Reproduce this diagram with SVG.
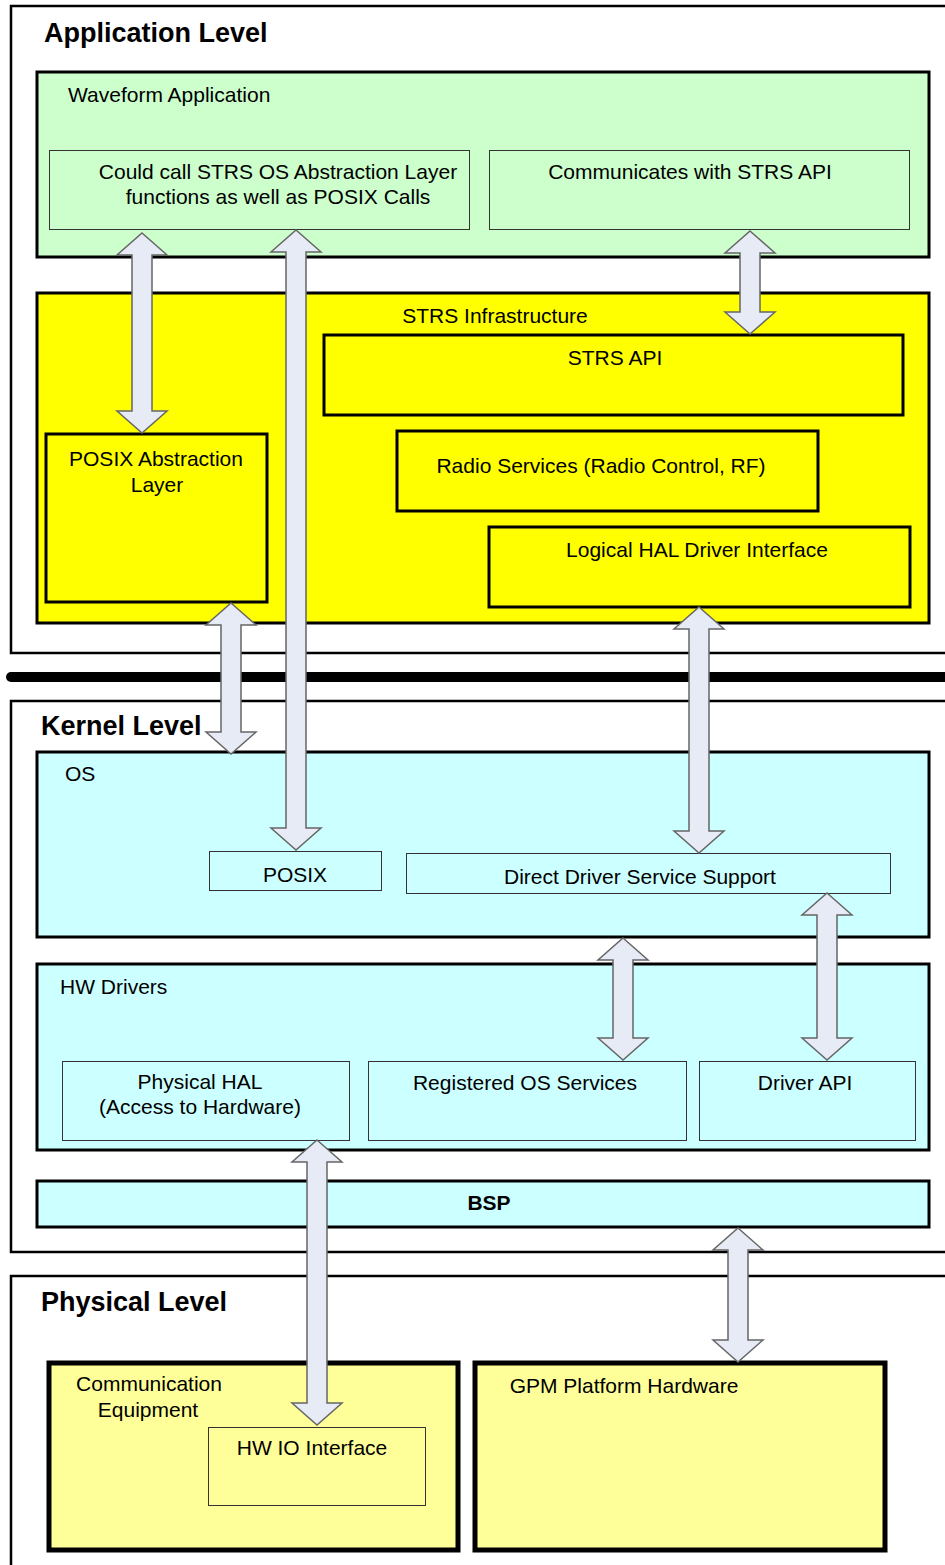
<svg xmlns="http://www.w3.org/2000/svg" width="945" height="1565" viewBox="0 0 945 1565">
<style>
text{font-family:"Liberation Sans",Arial,sans-serif;font-size:21px;fill:#000}
.lvl{font-weight:bold;font-size:27px}
.b{font-weight:bold}
.m{text-anchor:middle}
.frame{fill:none;stroke:#000;stroke-width:2.5}
.green{fill:#CCFFCC;stroke:#000;stroke-width:3}
.yel{fill:#FFFF00;stroke:#000;stroke-width:3}
.cyan{fill:#CCFFFF;stroke:#000;stroke-width:3}
.pale{fill:#FFFF99;stroke:#000;stroke-width:5}
.thin{stroke:#333;stroke-width:1}
.thin.g{fill:#CCFFCC}
.thin.c{fill:#CCFFFF}
.thin.p{fill:#FFFF99}
.arr{fill:#E6EBF5;stroke:#666;stroke-width:1.5;stroke-linejoin:miter}
</style>
<rect width="945" height="1565" fill="#fff"/>

<g id="application-level">
<path class="frame" d="M945,6 H11 V653 H945"/>
<text class="lvl" x="44" y="42">Application Level</text>
</g>
<line id="divider" x1="11" y1="677" x2="945" y2="677" stroke="#000" stroke-width="10" stroke-linecap="round"/>
<g id="kernel-level">
<path class="frame" d="M945,701 H11 V1252 H945"/>
<text class="lvl" x="41" y="735">Kernel Level</text>
</g>
<g id="physical-level">
<path class="frame" d="M945,1276 H11 V1565"/>
<text class="lvl" x="41" y="1311">Physical Level</text>
</g>

<g id="waveform-application">
<rect class="green" x="37" y="72" width="892" height="185"/>
<text x="68" y="102">Waveform Application</text>
</g>
<g id="could-call">
<rect class="thin g" x="49.5" y="150.5" width="420" height="79"/>
<text class="m" x="278" y="179">Could call STRS OS Abstraction Layer</text>
<text class="m" x="278" y="204">functions as well as POSIX Calls</text>
</g>
<g id="communicates">
<rect class="thin g" x="489.5" y="150.5" width="420" height="79"/>
<text class="m" x="690" y="179">Communicates with STRS API</text>
</g>

<g id="strs-infrastructure">
<rect class="yel" x="37" y="293" width="892" height="330"/>
<text class="m" x="495" y="323">STRS Infrastructure</text>
</g>
<g id="strs-api">
<rect class="yel" x="324" y="335" width="579" height="80"/>
<text class="m" x="615" y="365">STRS API</text>
</g>
<g id="radio-services">
<rect class="yel" x="397" y="431" width="421" height="80"/>
<text class="m" x="601" y="473">Radio Services (Radio Control, RF)</text>
</g>
<g id="logical-hal">
<rect class="yel" x="489" y="527" width="421" height="80"/>
<text class="m" x="697" y="557">Logical HAL Driver Interface</text>
</g>
<g id="posix-abstraction">
<rect class="yel" x="46" y="434" width="221" height="168"/>
<text class="m" x="156" y="466">POSIX Abstraction</text>
<text class="m" x="157" y="492">Layer</text>
</g>

<g id="os">
<rect class="cyan" x="37" y="752" width="892" height="185"/>
<text x="65" y="781">OS</text>
</g>
<g id="posix">
<rect class="thin c" x="209.5" y="851.5" width="172" height="39"/>
<text class="m" x="295" y="882">POSIX</text>
</g>
<g id="direct-driver">
<rect class="thin c" x="406.5" y="853.5" width="484" height="40"/>
<text class="m" x="640" y="884">Direct Driver Service Support</text>
</g>

<g id="hw-drivers">
<rect class="cyan" x="37" y="964" width="892" height="186"/>
<text x="60" y="994">HW Drivers</text>
</g>
<g id="physical-hal">
<rect class="thin c" x="62.5" y="1061.5" width="287" height="79"/>
<text class="m" x="200" y="1089">Physical HAL</text>
<text class="m" x="200" y="1114">(Access to Hardware)</text>
</g>
<g id="registered-os">
<rect class="thin c" x="368.5" y="1061.5" width="318" height="79"/>
<text class="m" x="525" y="1090">Registered OS Services</text>
</g>
<g id="driver-api">
<rect class="thin c" x="699.5" y="1061.5" width="216" height="79"/>
<text class="m" x="805" y="1090">Driver API</text>
</g>

<g id="bsp">
<rect class="cyan" x="37" y="1181" width="892" height="46"/>
<text class="m b" x="489" y="1210">BSP</text>
</g>

<g id="communication-equipment">
<rect class="pale" x="49" y="1363" width="409" height="187"/>
<text class="m" x="149" y="1391">Communication</text>
<text class="m" x="148" y="1417">Equipment</text>
</g>
<g id="hw-io">
<rect class="thin p" x="208.5" y="1427.5" width="217" height="78"/>
<text class="m" x="312" y="1455">HW IO Interface</text>
</g>
<g id="gpm">
<rect class="pale" x="475" y="1363" width="410" height="187"/>
<text class="m" x="624" y="1393">GPM Platform Hardware</text>
</g>

<g id="connectors">
<path class="arr" d="M142,233 L167,255 L152,255 L152,411 L167,411 L142,433 L117,411 L132,411 L132,255 L117,255 Z"/>
<path class="arr" d="M296,230 L321,252 L306,252 L306,828 L321,828 L296,850 L271,828 L286,828 L286,252 L271,252 Z"/>
<path class="arr" d="M750,231 L775,253 L760,253 L760,312 L775,312 L750,334 L725,312 L740,312 L740,253 L725,253 Z"/>
<path class="arr" d="M231,603 L256,625 L241,625 L241,732 L256,732 L231,754 L206,732 L221,732 L221,625 L206,625 Z"/>
<path class="arr" d="M699,607 L724,629 L709,629 L709,831 L724,831 L699,853 L674,831 L689,831 L689,629 L674,629 Z"/>
<path class="arr" d="M623,938 L648,960 L633,960 L633,1038 L648,1038 L623,1060 L598,1038 L613,1038 L613,960 L598,960 Z"/>
<path class="arr" d="M827,893 L852,915 L837,915 L837,1038 L852,1038 L827,1060 L802,1038 L817,1038 L817,915 L802,915 Z"/>
<path class="arr" d="M317,1140 L342,1162 L327,1162 L327,1403 L342,1403 L317,1425 L292,1403 L307,1403 L307,1162 L292,1162 Z"/>
<path class="arr" d="M738,1228 L763,1250 L748,1250 L748,1340 L763,1340 L738,1362 L713,1340 L728,1340 L728,1250 L713,1250 Z"/>
</g>
</svg>
